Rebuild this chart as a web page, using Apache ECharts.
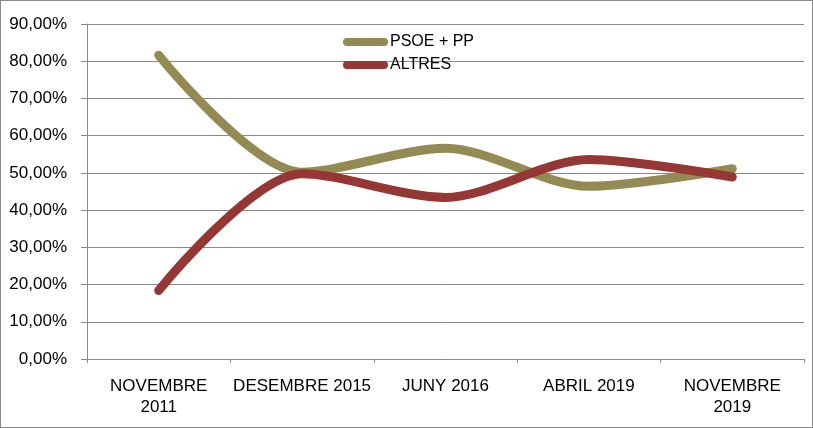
<!DOCTYPE html>
<html>
<head>
<meta charset="utf-8">
<script src="https://cdn.jsdelivr.net/npm/echarts@6.0.0/dist/echarts.min.js"></script>
<style>
  html, body { margin: 0; padding: 0; background: #fff; }
  #chart { width: 813px; height: 428px; box-sizing: border-box; border: 1px solid #8a8a8a; }
</style>
</head>
<body>
<div id="chart"></div>
<script>
// dades
const categories = ['NOVEMBRE\n2011', 'DESEMBRE 2015', 'JUNY 2016', 'ABRIL 2019', 'NOVEMBRE\n2019'];
const psoePP = [81.6, 50.2, 56.6, 46.4, 51.1];
const altres = [18.4, 49.8, 43.4, 53.6, 48.9];
const seriesNames = ['PSOE + PP', 'ALTRES'];
const colors = ['#948a54', '#953735'];

const font = 'Liberation Sans, Arial, sans-serif';
const capsule = 'path://M4 0H41A4 4 0 0 1 41 8H4A4 4 0 0 1 4 0Z';

const chart = echarts.init(document.getElementById('chart'));

const option = {
    animation: false,
    color: colors,
    textStyle: { fontFamily: font },
    grid: { left: 86, right: 8, top: 23, bottom: 68 },
    legend: {
        orient: 'vertical',
        left: 337,
        top: 27,
        itemWidth: 45,
        itemHeight: 8,
        itemGap: 5,
        textStyle: { fontSize: 16, color: '#000', padding: [0, 0, 0, -3], lineHeight: 18 },
        data: [
            { name: seriesNames[0], icon: capsule },
            { name: seriesNames[1], icon: capsule }
        ]
    },
    xAxis: {
        type: 'category',
        data: categories,
        boundaryGap: true,
        axisLine: { lineStyle: { color: '#8a8a8a', width: 1 } },
        axisTick: { show: true, length: 4, lineStyle: { color: '#8a8a8a' } },
        axisLabel: {
            interval: 0,
            margin: 17,
            fontSize: 17,
            lineHeight: 21,
            color: '#000',
            fontFamily: font
        }
    },
    yAxis: {
        type: 'value',
        min: 0,
        max: 90,
        interval: 10,
        axisLine: { show: true, lineStyle: { color: '#8a8a8a', width: 1 } },
        axisTick: { show: true, length: 6, lineStyle: { color: '#8a8a8a' } },
        splitLine: { lineStyle: { color: '#8a8a8a', width: 1 } },
        axisLabel: {
            margin: 20,
            fontSize: 17,
            color: '#000',
            fontFamily: font,
            formatter: function (v) { return v.toFixed(2).replace('.', ',') + '%'; }
        }
    },
    series: [
        {
            name: seriesNames[0],
            type: 'line',
            data: psoePP,
            smooth: 0.3,
            showSymbol: false,
            symbol: 'none',
            lineStyle: { width: 9, color: colors[0], cap: 'round', join: 'round' },
            itemStyle: { color: colors[0] }
        },
        {
            name: seriesNames[1],
            type: 'line',
            data: altres,
            smooth: 0.3,
            showSymbol: false,
            symbol: 'none',
            lineStyle: { width: 9, color: colors[1], cap: 'round', join: 'round' },
            itemStyle: { color: colors[1] }
        }
    ]
};

chart.setOption(option);
</script>
</body>
</html>
